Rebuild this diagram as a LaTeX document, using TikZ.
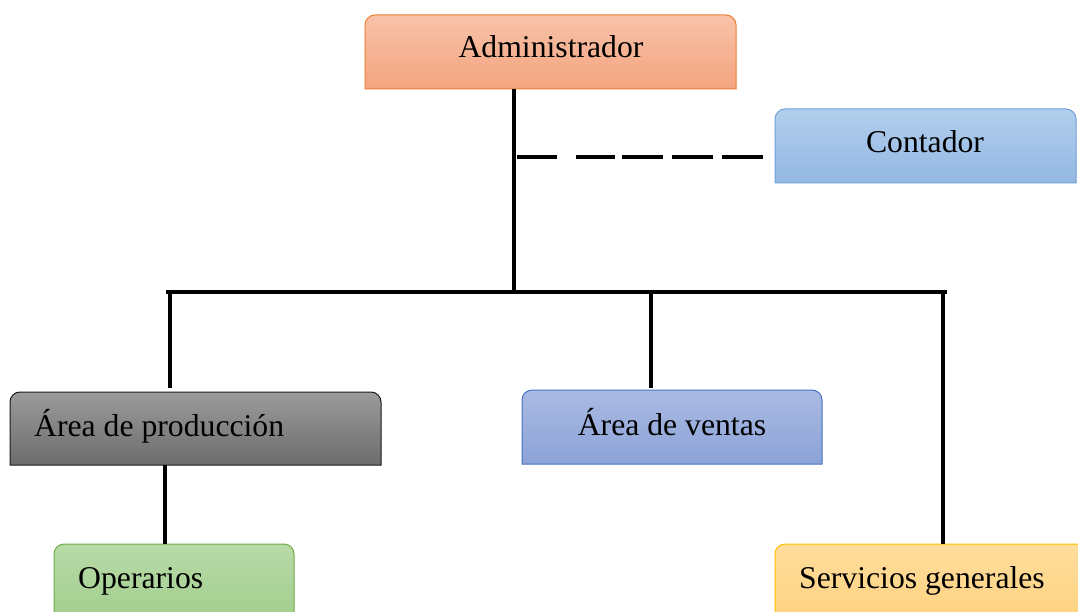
\documentclass[tikz,border=0pt]{standalone}
\usepackage{fontspec}
\setmainfont{Liberation Serif}
\begin{document}
\begin{tikzpicture}[x=1pt,y=-1pt,
  conn/.style={line width=3.5pt,black},
  lbl/.style={inner sep=0pt,font=\fontsize{31.7}{38}\selectfont,anchor=base},
  boxnode/.style={inner sep=0pt,outer sep=0pt},
  adminfill/.style={top color=adminTop,bottom color=adminBot,draw=adminLine,line width=1pt},
  contfill/.style={top color=contTop,bottom color=contBot,draw=contLine,line width=1pt},
  prodfill/.style={top color=prodTop,bottom color=prodBot,draw=prodLine,line width=1pt},
  ventfill/.style={top color=ventTop,bottom color=ventBot,draw=ventLine,line width=1pt},
  operfill/.style={top color=operTop,bottom color=operBot,draw=operLine,line width=1pt},
  servfill/.style={top color=servTop,bottom color=servBot,draw=servLine,line width=1pt}]
\definecolor{adminTop}{HTML}{F8C2A9}\definecolor{adminBot}{HTML}{F4A47E}\definecolor{adminLine}{HTML}{ED7D31}
\definecolor{contTop}{HTML}{B2CEEC}\definecolor{contBot}{HTML}{93B8E3}\definecolor{contLine}{HTML}{6FA1D8}
\definecolor{prodTop}{HTML}{9B9B9B}\definecolor{prodBot}{HTML}{6C6C6C}\definecolor{prodLine}{HTML}{1A1A1A}
\definecolor{ventTop}{HTML}{AABAE2}\definecolor{ventBot}{HTML}{8CA3D8}\definecolor{ventLine}{HTML}{4472C4}
\definecolor{operTop}{HTML}{B8DAA8}\definecolor{operBot}{HTML}{9CCB86}\definecolor{operLine}{HTML}{70AD47}
\definecolor{servTop}{HTML}{FFDD9C}\definecolor{servBot}{HTML}{FFD07A}\definecolor{servLine}{HTML}{FFC000}
\useasboundingbox (0,0) rectangle (1078,612);
\fill[white] (0,0) rectangle (1078,612);
\clip (0,0) rectangle (1078,612);
% box shapes (rounded top corners)
\path[adminfill] (365,89) -- (365,25) arc[start angle=180,end angle=270,radius=10] -- (726,15) arc[start angle=270,end angle=360,radius=10] -- (736,89) -- cycle;
\path[contfill] (775,183) -- (775,119) arc[start angle=180,end angle=270,radius=10] -- (1066,109) arc[start angle=270,end angle=360,radius=10] -- (1076,183) -- cycle;
\path[prodfill] (10,465) -- (10,402) arc[start angle=180,end angle=270,radius=10] -- (371,392) arc[start angle=270,end angle=360,radius=10] -- (381,465) -- cycle;
\path[ventfill] (522,464) -- (522,400) arc[start angle=180,end angle=270,radius=10] -- (812,390) arc[start angle=270,end angle=360,radius=10] -- (822,464) -- cycle;
\path[operfill] (54,640) -- (54,554) arc[start angle=180,end angle=270,radius=10] -- (284,544) arc[start angle=270,end angle=360,radius=10] -- (294,640) -- cycle;
\path[servfill] (775,640) -- (775,554) arc[start angle=180,end angle=270,radius=10] -- (1080,544) -- (1090,544) -- (1090,640) -- cycle;
% named box nodes
\node[boxnode,minimum width=371pt,minimum height=74pt] (admin) at (550.5,52) {};
\node[boxnode,minimum width=301pt,minimum height=74pt] (cont) at (925.5,146) {};
\node[boxnode,minimum width=371pt,minimum height=73pt] (prod) at (195.5,428.5) {};
\node[boxnode,minimum width=300pt,minimum height=74pt] (vent) at (672,427) {};
\node[boxnode,minimum width=240pt,minimum height=80pt] (oper) at (174,584) {};
\node[boxnode,minimum width=310pt,minimum height=80pt] (serv) at (930,584) {};
% labels
\node[lbl] (adminT) at (551,58) {Administrador};
\node[lbl] (contT) at (925,153) {Contador};
\node[lbl,anchor=base west] (prodT) at (34,436) {Área de producción};
\node[lbl] (ventT) at (672,435) {Área de ventas};
\node[lbl,anchor=base west] (operT) at (78,588) {Operarios};
\node[lbl,anchor=base west] (servT) at (799,588) {Servicios generales};
% connector coordinates
\coordinate (trunkTop) at (514,89);
\coordinate (bus) at (514,292);
\coordinate (busL) at (168,292);
\coordinate (busR) at (945,292);
\coordinate (prodIn) at (170,388);
\coordinate (ventIn) at (651,388);
\coordinate (servIn) at (943,544);
\coordinate (prodOut) at (165,465);
\coordinate (operIn) at (165,544);
\coordinate (dashStart) at (517,157);
\coordinate (dashEnd) at (763,157);
% connectors
\draw[conn] (trunkTop) -- (bus);
\draw[conn,line cap=rect] (busL) -- (busR);
\draw[conn] (prodIn |- busL) -- (prodIn);
\draw[conn] (ventIn |- busL) -- (ventIn);
\draw[conn] (servIn |- busR) -- (servIn);
\draw[conn] (prodOut) -- (operIn);
\draw[conn,dash pattern=on 40pt off 19pt on 39pt off 7pt on 41pt off 9pt on 41pt off 9pt on 41pt off 9pt] (dashStart) -- (dashEnd);
\end{tikzpicture}
\end{document}
